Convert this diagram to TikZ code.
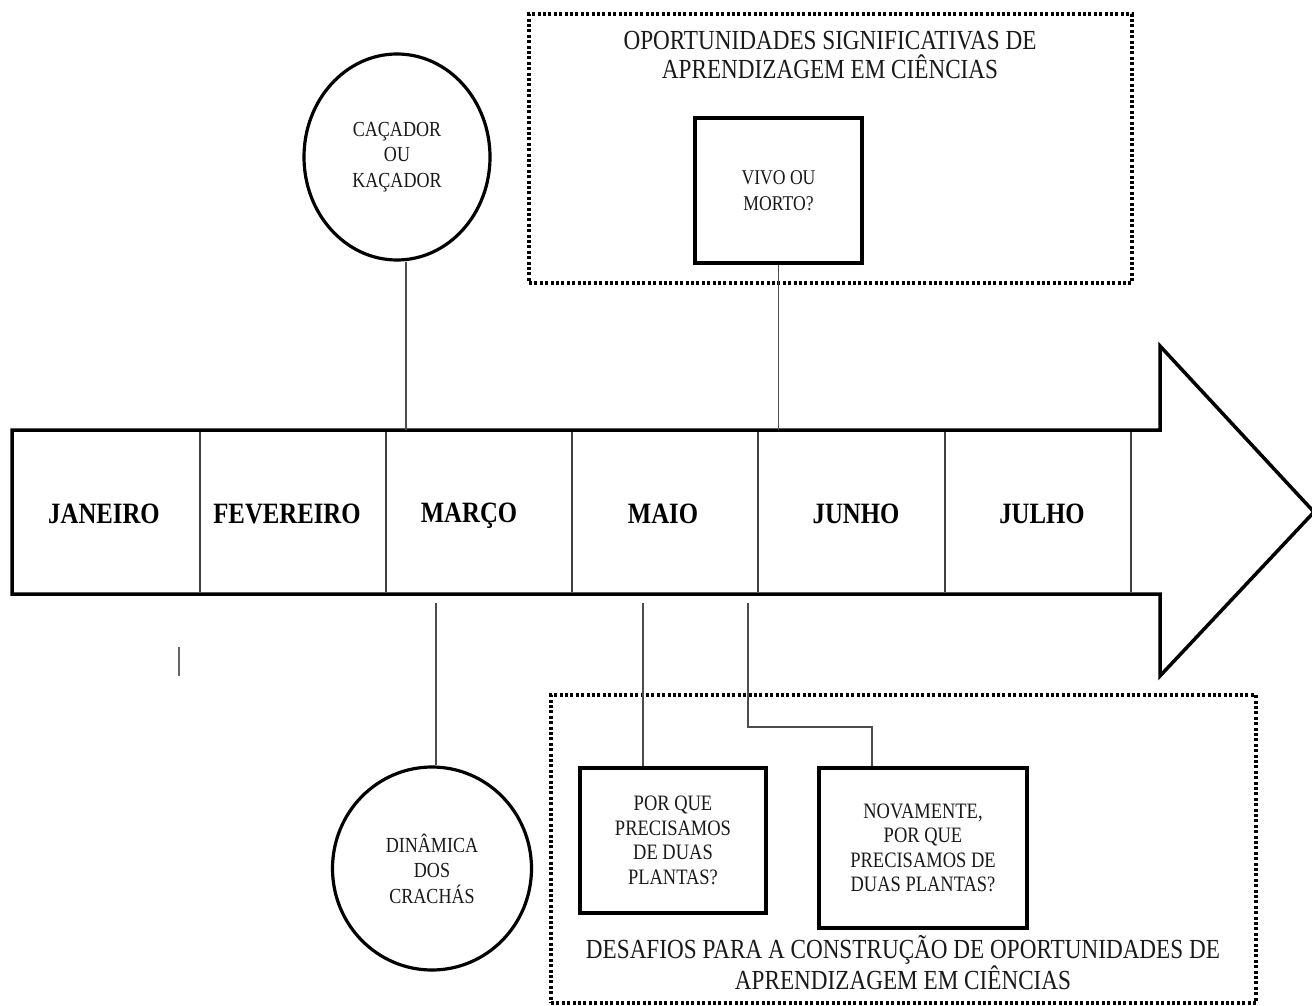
\documentclass[tikz,border=0pt]{standalone}
\usepackage{fontspec}
\setmainfont{Liberation Serif}[FakeStretch=0.84]
\usetikzlibrary{shapes.geometric}
\begin{document}
\begin{tikzpicture}[x=1pt,y=-1pt,
  outline/.style={line width=3.5pt, line join=miter},
  divider/.style={line width=1.2pt, draw=black!75},
  conn/.style={line width=1.3pt, draw=black!70},
  month/.style={font=\fontsize{29.5}{32}\selectfont\bfseries, text=black},
  bubble/.style={ellipse, draw, line width=3.2pt, inner sep=0pt, align=center,
    font=\fontsize{21.5}{25.5}\selectfont, text=black!90},
  qbox/.style={rectangle, draw, line width=3.5pt, inner sep=0pt, align=center,
    text=black!90},
  dotbox/.style={rectangle, draw, line width=3.4pt, dash pattern=on 3pt off 2.4pt,
    inner sep=0pt},
  title/.style={align=center, font=\fontsize{27.6}{29}\selectfont, text=black!90}]
\useasboundingbox (0,0) rectangle (1312,1006);

% timeline arrow
\draw[outline] (12,430) -- (1160,430) -- (1160,346) -- (1314,512)
  -- (1160,676) -- (1160,594) -- (12,594) -- cycle;
\foreach \x in {200,386,572,758,945,1131}
  \draw[divider] (\x,432) -- (\x,592);

% month labels
\node[month] (jan) at (104,514) {JANEIRO};
\node[month] (fev) at (287,514) {FEVEREIRO};
\node[month] (mar) at (469,515.5) {MARÇO};
\node[month] (mai) at (663,514) {MAIO};
\node[month] (jun) at (856,514) {JUNHO};
\node[month] (jul) at (1042,514) {JULHO};

% attachment points on the arrow body
\coordinate (top) at (0,430);
\coordinate (c1) at (406,430);
\coordinate (c2) at (436,603);
\coordinate (c3) at (643,603);
\coordinate (c4) at (748,603);
\coordinate (c5) at (872,727);

% upper group
\node[dotbox, minimum width=603, minimum height=269] (opp) at (830.5,148.5) {};
\node[title] (opptitle) at (830,54.5)
  {OPORTUNIDADES SIGNIFICATIVAS DE\\APRENDIZAGEM EM CIÊNCIAS};
\node[qbox, minimum width=167, minimum height=145,
  font=\fontsize{21}{26}\selectfont] (vivo) at (778.5,190.5) {VIVO OU\\MORTO?};
\node[bubble, minimum width=186, minimum height=206] (cacador) at (397,157)
  {CAÇADOR\\OU\\KAÇADOR};

% lower group
\node[dotbox, minimum width=705, minimum height=308] (des) at (903.5,849) {};
\node[title] (destitle) at (903,962.5)
  {DESAFIOS PARA A CONSTRUÇÃO DE OPORTUNIDADES DE\\APRENDIZAGEM EM CIÊNCIAS};
\node[qbox, minimum width=186, minimum height=145,
  font=\fontsize{22}{24.5}\selectfont] (porque) at (673,840.5)
  {POR QUE\\PRECISAMOS\\DE DUAS\\PLANTAS?};
\node[qbox, minimum width=208, minimum height=160,
  font=\fontsize{22}{24.5}\selectfont] (novamente) at (923,848)
  {NOVAMENTE,\\POR QUE\\PRECISAMOS DE\\DUAS PLANTAS?};
\node[bubble, minimum width=199, minimum height=203] (dinamica) at (432,868.5)
  {DINÂMICA\\DOS\\CRACHÁS};

% connectors
\draw[conn] (cacador.south -| c1) -- (c1);
\draw[conn] (vivo.south) -- (vivo.south |- top);
\draw[conn] (c2) -- (c2 |- dinamica.north);
\draw[conn] (c3) -- (c3 |- porque.north);
\draw[conn] (c4) |- (c5) -- (c5 |- novamente.north);

% short stray mark
\draw[line width=2pt, draw=black!60] (179,647) -- (179,676);
\end{tikzpicture}
\end{document}
